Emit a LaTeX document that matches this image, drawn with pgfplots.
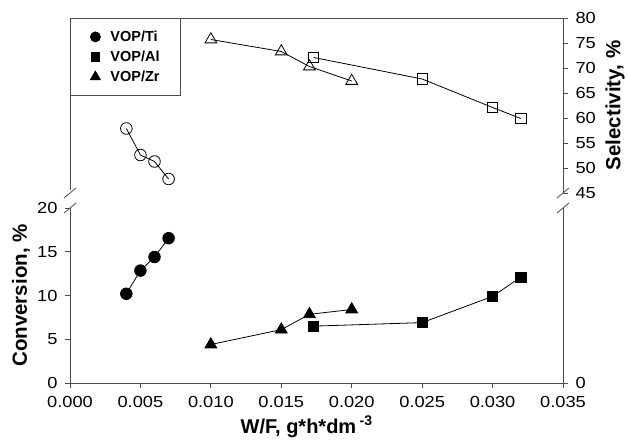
\documentclass[border=0pt]{standalone}
\usepackage{pgfplots}
\pgfplotsset{compat=1.18}
\usepackage{fontspec}
\setmainfont{Liberation Sans}
\newfontfamily\tickfont[FakeStretch=1.14]{Liberation Sans}

\pgfplotstableread{
x y
0.004 10.2
0.005 12.85
0.006 14.4
0.007 16.55
}\tiConv
\pgfplotstableread{
x y
0.010 4.4
0.015 6.1
0.017 7.85
0.020 8.4
}\zrConv
\pgfplotstableread{
x y
0.0173 6.5
0.025 6.9
0.030 9.9
0.032 12.1
}\alConv
\pgfplotstableread{
x y
0.004 57.9
0.005 52.6
0.006 51.3
0.007 47.8
}\tiSel
\pgfplotstableread{
x y
0.010 75.7
0.015 73.3
0.017 70.3
0.020 67.4
}\zrSel
\pgfplotstableread{
x y
0.0173 72.1
0.025 67.8
0.030 62.1
0.032 59.9
}\alSel

\pgfplotsset{
  common/.style={
    scale only axis, width=493pt, height=175pt,
    xmin=0, xmax=0.035, clip=false,
    axis line style={-, line width=0.8pt, black!70},
    tick align=outside, major tick length=5pt,
    tick style={line width=0.8pt, black!70},
    ticklabel style={font=\tickfont\fontsize{16}{18}\selectfont},
    /pgf/number format/assume math mode=true,
    label style={font=\fontsize{20.5}{24}\selectfont\bfseries},
    every axis plot/.append style={black, line width=0.8pt},
  },
}

\begin{document}
\begin{tikzpicture}
\useasboundingbox (-70pt,-59pt) rectangle (557pt,383pt);
% ---------- lower axis: conversion ----------
\begin{axis}[common,
  at={(0pt,0pt)}, anchor=south west,
  ymin=0, ymax=20,
  axis x line*=bottom, axis y line*=left,
  xtick={0,0.005,0.01,0.015,0.02,0.025,0.03,0.035},
  scaled x ticks=false,
  xticklabel style={yshift=-5pt, /pgf/number format/.cd, fixed, fixed zerofill, precision=3},
  yticklabel style={xshift=-4pt},
  ytick={0,5,10,15,20},
  xlabel={W/F, g*h*dm\,\textsuperscript{-3}},
  xlabel style={at={(axis description cs:0.48,0)}, anchor=base, yshift=-50pt, font=\fontsize{20}{24}\selectfont\bfseries},
  ylabel={Conversion, \%},
  ylabel style={at={(axis description cs:-0.0994,0.5)}, anchor=center},
]
\addplot[mark=*, mark size=5.8pt] table {\tiConv};
\addplot[mark=triangle*, mark size=6.8pt] table {\zrConv};
\addplot[mark=square*, mark size=5.2pt] table {\alConv};
\draw[line width=0.8pt, black!70] (rel axis cs:0,1) ++(-6pt,-5pt) -- ++(12pt,10pt);
\draw[line width=0.8pt, black!70] (rel axis cs:1,1) ++(-6pt,-5pt) -- ++(12pt,10pt);
\end{axis}
% right line of lower axis with its single tick
\begin{axis}[common,
  at={(0pt,0pt)}, anchor=south west,
  ymin=0, ymax=20,
  axis x line=none, axis y line*=right,
  ytick={0},
  yticklabel style={xshift=4pt},
]
\end{axis}
% ---------- upper axis: selectivity ----------
\begin{axis}[common,
  at={(0pt,190pt)}, anchor=south west,
  ymin=45, ymax=80,
  axis x line*=top, axis y line*=right,
  xtick=\empty,
  ytick={45,50,55,60,65,70,75,80},
  yticklabel style={xshift=4pt},
  ylabel={Selectivity, \%},
  ylabel style={at={(axis description cs:1.1055,0.5)}, anchor=center},
  legend style={at={(rel axis cs:0,1)}, anchor=north west,
    draw=black!70, line width=0.8pt,
    font=\fontsize{14.5}{16}\selectfont\bfseries,
    inner xsep=19pt, inner ysep=10.5pt, row sep=4pt,
    cells={anchor=west}},
  legend image code/.code={\path[draw=none] (0pt,0pt) -- (19pt,0pt);\draw[#1] plot coordinates {(6pt,0pt)};},
]
\addlegendimage{only marks, black, mark=*, mark size=5pt}
\addlegendentry{VOP/Ti}
\addlegendimage{only marks, black, mark=square*, mark size=4.4pt}
\addlegendentry{VOP/Al}
\addlegendimage{only marks, black, mark=triangle*, mark size=5.8pt}
\addlegendentry{VOP/Zr}
\addplot[forget plot, mark=o, mark size=5.8pt, mark options={fill=white}] table {\tiSel};
\addplot[forget plot, mark=triangle, mark size=6.8pt, mark options={fill=white}] table {\zrSel};
\addplot[forget plot, mark=square, mark size=5.2pt, mark options={fill=white}] table {\alSel};
\draw[line width=0.8pt, black!70] (rel axis cs:0,0.015) -- (rel axis cs:0,1);
\draw[line width=0.8pt, black!70] (rel axis cs:0,0) ++(-6pt,-5pt) -- ++(12pt,10pt);
\draw[line width=0.8pt, black!70] (rel axis cs:1,0) ++(-6pt,-5pt) -- ++(12pt,10pt);
\end{axis}
\end{tikzpicture}
\end{document}
